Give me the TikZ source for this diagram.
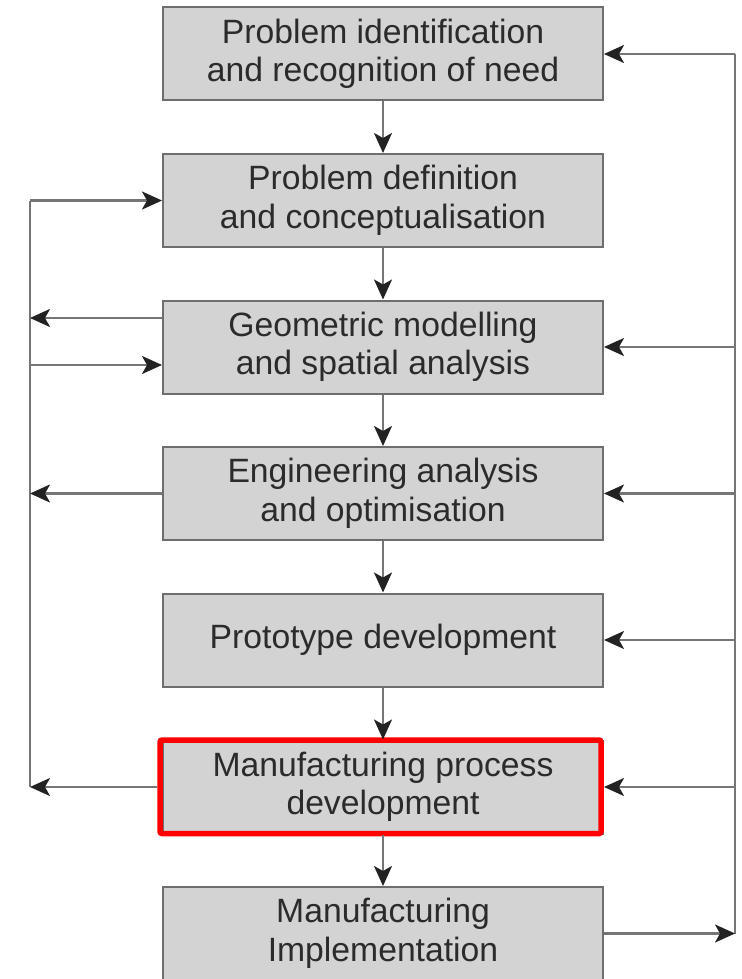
\documentclass[tikz,border=0pt]{standalone}
\usepackage{fontspec}
\setmainfont{Liberation Sans}
\usetikzlibrary{arrows.meta}
\definecolor{boxfill}{HTML}{D3D3D3}
\definecolor{boxline}{HTML}{6E6E6E}
\definecolor{wire}{HTML}{767676}
\definecolor{tipcol}{HTML}{222222}
\definecolor{txt}{HTML}{2B2B2B}
\definecolor{hilite}{HTML}{FF0000}
\tikzset{
  stage/.style={draw=boxline, line width=2pt, fill=boxfill, rectangle,
    minimum width=440pt, minimum height=93pt, inner sep=0pt,
    align=center, text=txt,
    font=\fontsize{33.7}{38.5}\selectfont},
  conn/.style={draw=wire, line width=2.2pt,
    -{Stealth[length=20pt, width=18pt, inset=5pt, fill=tipcol, color=tipcol]}},
  wireline/.style={draw=wire, line width=2.2pt},
  focus/.style={draw=hilite, line width=5.5pt, rounded corners=2pt}
}
\begin{document}
\begin{tikzpicture}[x=1pt, y=-1pt]
\useasboundingbox (0,0) rectangle (741,979);

% process stages
\node[stage] (b1) at (383,54)    {Problem identification\\and recognition of need};
\node[stage] (b2) at (383,200.5) {Problem definition\\and conceptualisation};
\node[stage] (b3) at (383,347)   {Geometric modelling\\and spatial analysis};
\node[stage] (b4) at (383,493.5) {Engineering analysis\\and optimisation};
\node[stage] (b5) at (383,640)   {Prototype development};
\node[stage] (b6) at (383,787)   {Manufacturing process\\development};
\node[stage] (b7) at (383,933.5) {Manufacturing\\Implementation};

% highlight around the manufacturing process stage
\draw[focus] (160,740) rectangle (601,833.5);

% main downward flow
\draw[conn] (b1.south) -- (b2.north);
\draw[conn] (b2.south) -- (b3.north);
\draw[conn] (b3.south) -- (b4.north);
\draw[conn] (b4.south) -- (b5.north);
\draw[conn] (b5.south) -- (b6.north);
\draw[conn] (b6.south) -- (b7.north);

% right-hand feedback bus
\coordinate (rtop) at (735,54);
\coordinate (rbot) at (735,933.5);
\draw[wireline] (rtop) -- (rbot);
\draw[conn] (rtop) -- (b1.east);
\draw[conn] (b3.east -| rtop) -- (b3.east);
\draw[conn] (b4.east -| rtop) -- (b4.east);
\draw[conn] (b5.east -| rtop) -- (b5.east);
\draw[conn] (b6.east -| rtop) -- (b6.east);
\draw[conn] (b7.east) -- (rbot);

% left-hand feedback bus
\coordinate (ltop) at (30,200.5);
\coordinate (lbot) at (30,787);
\coordinate (l3out) at (30,318);
\coordinate (l3in) at (30,365);
\draw[wireline] (ltop) -- (lbot);
\draw[conn] (ltop) -- (b2.west);
\draw[conn] (b3.west |- l3out) -- (l3out);
\draw[conn] (l3in) -- (b3.west |- l3in);
\draw[conn] (b4.west) -- (b4.west -| ltop);
\draw[conn] (157,787) -- (lbot);
\end{tikzpicture}
\end{document}
